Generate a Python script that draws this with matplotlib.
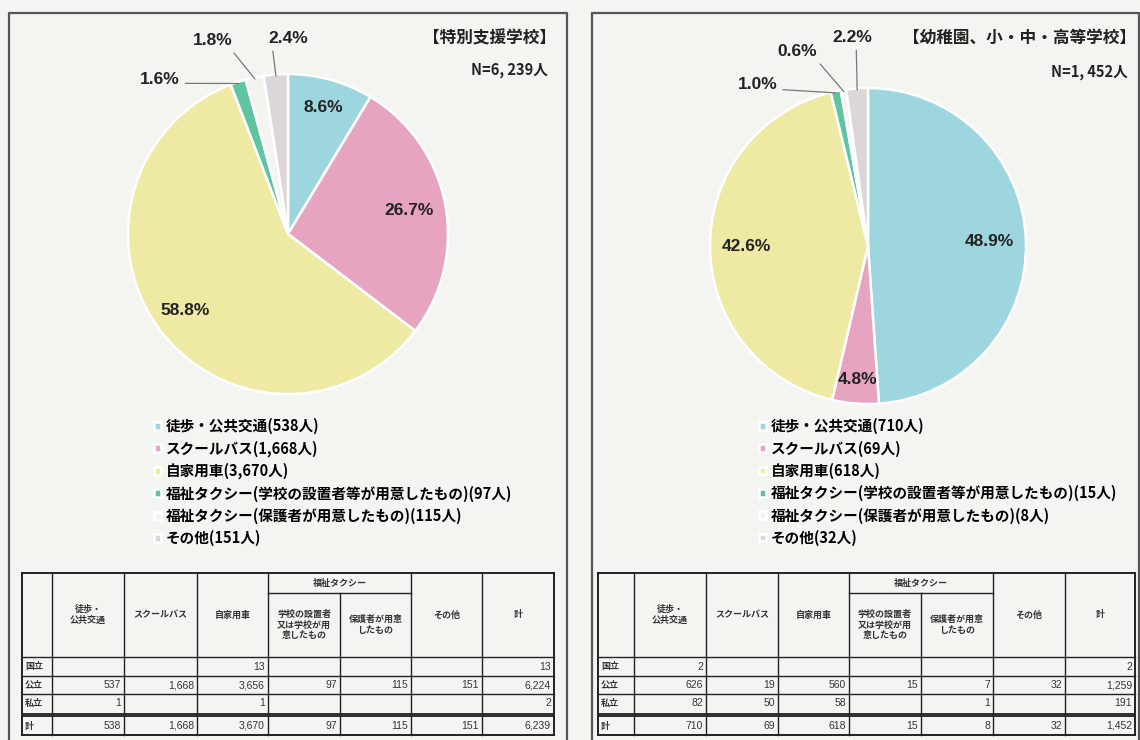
import matplotlib
matplotlib.use("Agg")
import matplotlib.pyplot as plt
import math

plt.rcParams['font.family'] = ['Noto Sans CJK JP', 'DejaVu Sans']

W, H = 1140, 740

categories = ['徒歩・公共交通', 'スクールバス', '自家用車',
              '福祉タクシー(学校の設置者等が用意したもの)',
              '福祉タクシー(保護者が用意したもの)', 'その他']
colors = ['#9dd6df', '#e6a4c1', '#eee9a3', '#5fc4a2', '#f3f3ef', '#dcd6da']

# 特別支援学校
sp_title = '【特別支援学校】'
sp_n = 'N=6, 239人'
sp_counts = [538, 1668, 3670, 97, 115, 151]

# 幼稚園、小・中・高等学校
gen_title = '【幼稚園、小・中・高等学校】'
gen_n = 'N=1, 452人'
gen_counts = [710, 69, 618, 15, 8, 32]

# tables
row_labels = ['国立', '公立', '私立', '計']
col_labels = ['徒歩・\n公共交通', 'スクールバス', '自家用車',
              '学校の設置者\n又は学校が用\n意したもの', '保護者が用意\nしたもの',
              'その他', '計']
taxi_group = '福祉タクシー'
sp_table = [
    ['', '', '13', '', '', '', '13'],
    ['537', '1,668', '3,656', '97', '115', '151', '6,224'],
    ['1', '', '1', '', '', '', '2'],
    ['538', '1,668', '3,670', '97', '115', '151', '6,239'],
]
gen_table = [
    ['2', '', '', '', '', '', '2'],
    ['626', '19', '560', '15', '7', '32', '1,259'],
    ['82', '50', '58', '', '1', '', '191'],
    ['710', '69', '618', '15', '8', '32', '1,452'],
]

fig = plt.figure(figsize=(W / 100, H / 100), dpi=100)
fig.patch.set_facecolor('#f4f4f1')

bg = fig.add_axes([0, 0, 1, 1])
bg.set_xlim(0, W)
bg.set_ylim(H, 0)
bg.axis('off')

# panel frames
for x0, x1 in [(9, 567), (592, 1139)]:
    bg.plot([x0, x1, x1, x0, x0], [748, 748, 13, 13, 748], color='#555555', lw=1.6)


def draw_pie(cx, cy, r, counts, insides, outsides):
    ax = fig.add_axes([(cx - r) / W, 1 - (cy + r) / H, 2 * r / W, 2 * r / H])
    wedges, _ = ax.pie(counts, colors=colors, startangle=90, counterclock=False,
                       radius=1.0, wedgeprops=dict(edgecolor='white', linewidth=1.8))
    ax.set_xlim(-1, 1)
    ax.set_ylim(-1, 1)
    ax.axis('off')
    total = sum(counts)
    for i, w in enumerate(wedges):
        pct = f'{counts[i] / total * 100:.1f}%'
        mid = math.radians((w.theta1 + w.theta2) / 2)
        if i in insides:
            rr = insides[i]
            ax.text(rr * math.cos(mid), rr * math.sin(mid), pct, ha='center', va='center',
                    fontsize=12.5, fontweight='bold', color='#222222',
                    family=['Liberation Sans', 'DejaVu Sans'])
        else:
            tx, ty, rel = outsides[i]
            ax.annotate(pct, xy=(0.99 * math.cos(mid), 0.99 * math.sin(mid)), xytext=(tx, ty),
                        ha='center', va='center', fontsize=12.5, fontweight='bold',
                        color='#222222', family=['Liberation Sans', 'DejaVu Sans'],
                        annotation_clip=False,
                        arrowprops=dict(arrowstyle='-', color='#777777', lw=0.9,
                                        relpos=rel, shrinkA=2, shrinkB=0))
    return wedges


sp_wedges = draw_pie(288, 234, 160, sp_counts,
                     {0: 0.82, 1: 0.77, 2: 0.8},
                     {3: (-0.80, 0.965, (1.0, 0.25)),
                      4: (-0.47, 1.21, (0.9, 0.1)),
                      5: (0.0, 1.225, (0.1, 0.0))})
gen_wedges = draw_pie(868, 246, 158, gen_counts,
                      {0: 0.77, 1: 0.85, 2: 0.77},
                      {3: (-0.70, 1.02, (1.0, 0.2)),
                       4: (-0.45, 1.23, (0.95, 0.1)),
                       5: (-0.10, 1.32, (0.6, 0.0))})

# titles
bg.text(556, 38, sp_title, ha='right', va='center', fontsize=12, fontweight='bold', color='#222222')
bg.text(548, 70, sp_n, ha='right', va='center', fontsize=10.5, fontweight='bold', color='#222222')
bg.text(1136, 38, gen_title, ha='right', va='center', fontsize=12, fontweight='bold', color='#222222')
bg.text(1128, 72, gen_n, ha='right', va='center', fontsize=10.5, fontweight='bold', color='#222222')

# legends
for wedges, counts, x0 in [(sp_wedges, sp_counts, 154), (gen_wedges, gen_counts, 759)]:
    labels = [f'{c}({n:,}人)' for c, n in zip(categories, counts)]
    fig.legend(wedges, labels, loc='upper left', bbox_to_anchor=(x0 / W, 1 - 418 / H),
               frameon=False, handlelength=0.45, handleheight=0.45,
               handletextpad=0.35, labelspacing=0.42, borderpad=0, borderaxespad=0,
               prop=dict(weight='bold', size=10.5))


def draw_table(xs, data):
    y_top, y_sub, y_head = 573, 593, 657
    y_rows = [657, 676, 694, 713]
    y_bot = 735
    lc = '#222222'
    bg.plot([xs[0], xs[-1]], [y_top, y_top], color=lc, lw=1.4)
    bg.plot([xs[0], xs[-1]], [y_bot, y_bot], color=lc, lw=1.4)
    for y in y_rows[:3]:
        bg.plot([xs[0], xs[-1]], [y, y], color=lc, lw=1.0)
    bg.fill_between([xs[0], xs[-1]], 713, 717, color='#333333', lw=0)
    bg.plot([xs[4], xs[6]], [y_sub, y_sub], color=lc, lw=1.0)
    for j, x in enumerate(xs):
        if j == 5:
            bg.plot([x, x], [y_sub, y_bot], color=lc, lw=1.0)
        else:
            bg.plot([x, x], [y_top, y_bot], color=lc, lw=1.4 if j in (0, len(xs) - 1) else 1.0)
    bg.text((xs[4] + xs[6]) / 2, (y_top + y_sub) / 2, taxi_group, ha='center', va='center',
            fontsize=6.5, fontweight='bold', color='#333333')
    for j, lab in enumerate(col_labels):
        yc = (y_sub + y_head) / 2 if j in (3, 4) else (y_top + y_head) / 2
        bg.text((xs[j + 1] + xs[j + 2]) / 2, yc, lab, ha='center', va='center',
                fontsize=6.5, fontweight='bold', color='#333333', linespacing=1.25)
    row_y = [(657, 676), (676, 694), (694, 713), (717, 735)]
    for i, lab in enumerate(row_labels):
        yc = sum(row_y[i]) / 2
        bg.text(xs[0] + 3, yc, lab, ha='left', va='center', fontsize=6.5,
                fontweight='bold', color='#333333')
        for j, v in enumerate(data[i]):
            if v:
                bg.text(xs[j + 2] - 3, yc, v, ha='right', va='center', fontsize=7.5,
                        color='#333333', family=['Liberation Sans', 'DejaVu Sans'])


draw_table([22, 52, 124, 197, 268, 340, 411, 482, 554], sp_table)
draw_table([598, 634, 706, 778, 849, 921, 993, 1065, 1135], gen_table)

fig.savefig('out.png', dpi=100, facecolor=fig.get_facecolor())
